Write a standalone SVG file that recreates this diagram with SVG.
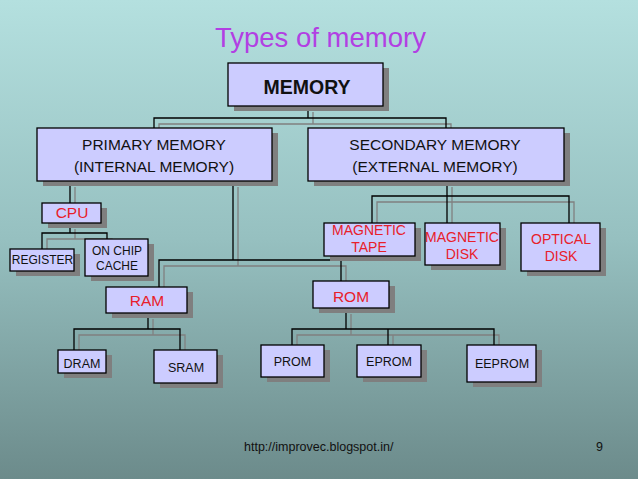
<svg xmlns="http://www.w3.org/2000/svg" width="638" height="479" viewBox="0 0 638 479">
<defs>
<linearGradient id="bg" x1="0" y1="0" x2="0" y2="1">
<stop offset="0" stop-color="#b4e0df"/>
<stop offset="0.5" stop-color="#96c0c0"/>
<stop offset="1" stop-color="#6c8b8b"/>
</linearGradient>
<style>
.box{fill:#ccccff;stroke:#000;stroke-width:1.3}
.sh{fill:#7f7f7f}
.ln{fill:none;stroke:#000;stroke-width:1.3}
.lns{fill:none;stroke:#808080;stroke-width:1.3}
text{font-family:"Liberation Sans",Arial,sans-serif;text-anchor:middle}
.k{fill:#111}
.r{fill:#e8202a}
</style>
</defs>
<rect width="638" height="479" fill="url(#bg)"/>
<text x="215" y="47" style="text-anchor:start;font-size:27.5px;fill:#b23fe3">Types of memory</text>

<g id="connectors">
<g transform="translate(5,6)" class="lns">
<path d="M308,106V118M154,128V118H446V128"/>
<path d="M70,181V203"/>
<path d="M233,181V260M159,287V260H341V281"/>
<path d="M447,181V223M372,223V196H569V223"/>
<path d="M70,223V233M42,249V233H107V239"/>
<path d="M148,313V329M74,350V329H180V350"/>
<path d="M346,308V329M292,345V329H494V345M388,329V345"/>
</g>
<g class="ln">
<path d="M308,106V118M154,128V118H446V128"/>
<path d="M70,181V203"/>
<path d="M233,181V260M159,287V260H341V281"/>
<path d="M447,181V223M372,223V196H569V223"/>
<path d="M70,223V233M42,249V233H107V239"/>
<path d="M148,313V329M74,350V329H180V350"/>
<path d="M346,308V329M292,345V329H494V345M388,329V345"/>
</g>
</g>

<g id="memory"><rect class="sh" x="234" y="68" width="155" height="43"/><rect class="box" x="228" y="63" width="155" height="43"/><text class="k" x="307" y="94" style="font-size:19.5px;font-weight:bold">MEMORY</text></g>

<g id="primary"><rect class="sh" x="43" y="133" width="235" height="53"/><rect class="box" x="37" y="128" width="235" height="53"/><text class="k" x="154" y="150" style="font-size:15.5px">PRIMARY MEMORY</text><text class="k" x="154" y="172" style="font-size:15.5px">(INTERNAL MEMORY)</text></g>

<g id="secondary"><rect class="sh" x="314" y="133" width="256" height="53"/><rect class="box" x="308" y="128" width="256" height="53"/><text class="k" x="435" y="150" style="font-size:15.5px">SECONDARY MEMORY</text><text class="k" x="435" y="172" style="font-size:15.5px">(EXTERNAL MEMORY)</text></g>

<g id="cpu"><rect class="sh" x="48" y="208" width="59" height="20"/><rect class="box" x="42" y="203" width="59" height="20"/><text class="r" x="72" y="218" style="font-size:15.5px">CPU</text></g>

<g id="register"><rect class="sh" x="16" y="254" width="64" height="22"/><rect class="box" x="10" y="249" width="64" height="22"/><text class="k" x="42.5" y="264" style="font-size:12px">REGISTER</text></g>

<g id="cache"><rect class="sh" x="91" y="244" width="63" height="37"/><rect class="box" x="85" y="239" width="63" height="37"/><text class="k" x="117" y="255" style="font-size:12px">ON CHIP</text><text class="k" x="117" y="270" style="font-size:12px">CACHE</text></g>

<g id="ram"><rect class="sh" x="112" y="292" width="81" height="26"/><rect class="box" x="106" y="287" width="81" height="26"/><text class="r" x="147" y="306" style="font-size:15.5px">RAM</text></g>

<g id="rom"><rect class="sh" x="319" y="286" width="76" height="27"/><rect class="box" x="313" y="281" width="76" height="27"/><text class="r" x="351" y="302" style="font-size:15.5px">ROM</text></g>

<g id="tape"><rect class="sh" x="330" y="228" width="91" height="33"/><rect class="box" x="324" y="223" width="91" height="33"/><text class="r" x="369" y="235" style="font-size:14px">MAGNETIC</text><text class="r" x="369" y="252" style="font-size:14px">TAPE</text></g>

<g id="disk"><rect class="sh" x="431" y="228" width="75" height="42"/><rect class="box" x="425" y="223" width="75" height="42"/><text class="r" x="462" y="242" style="font-size:14px">MAGNETIC</text><text class="r" x="462" y="259" style="font-size:14px">DISK</text></g>

<g id="optical"><rect class="sh" x="527" y="228" width="79" height="48"/><rect class="box" x="521" y="223" width="79" height="48"/><text class="r" x="561" y="244" style="font-size:14px">OPTICAL</text><text class="r" x="561" y="261" style="font-size:14px">DISK</text></g>

<g id="dram"><rect class="sh" x="64" y="355" width="48" height="23"/><rect class="box" x="58" y="350" width="48" height="23"/><text class="k" x="82" y="368" style="font-size:12.5px">DRAM</text></g>

<g id="sram"><rect class="sh" x="160" y="355" width="63" height="33"/><rect class="box" x="154" y="350" width="63" height="33"/><text class="k" x="186" y="372" style="font-size:12.5px">SRAM</text></g>

<g id="prom"><rect class="sh" x="267" y="350" width="63" height="32"/><rect class="box" x="261" y="345" width="63" height="32"/><text class="k" x="292.5" y="366" style="font-size:12.5px">PROM</text></g>

<g id="eprom"><rect class="sh" x="363" y="350" width="64" height="32"/><rect class="box" x="357" y="345" width="64" height="32"/><text class="k" x="389" y="366" style="font-size:12.5px">EPROM</text></g>

<g id="eeprom"><rect class="sh" x="473" y="350" width="69" height="37"/><rect class="box" x="467" y="345" width="69" height="37"/><text class="k" x="502" y="368" style="font-size:12.5px">EEPROM</text></g>

<text class="k" x="244" y="451" style="text-anchor:start;font-size:12.5px">http://improvec.blogspot.in/</text>
<text class="k" x="596" y="451" style="text-anchor:start;font-size:12.5px">9</text>
</svg>
